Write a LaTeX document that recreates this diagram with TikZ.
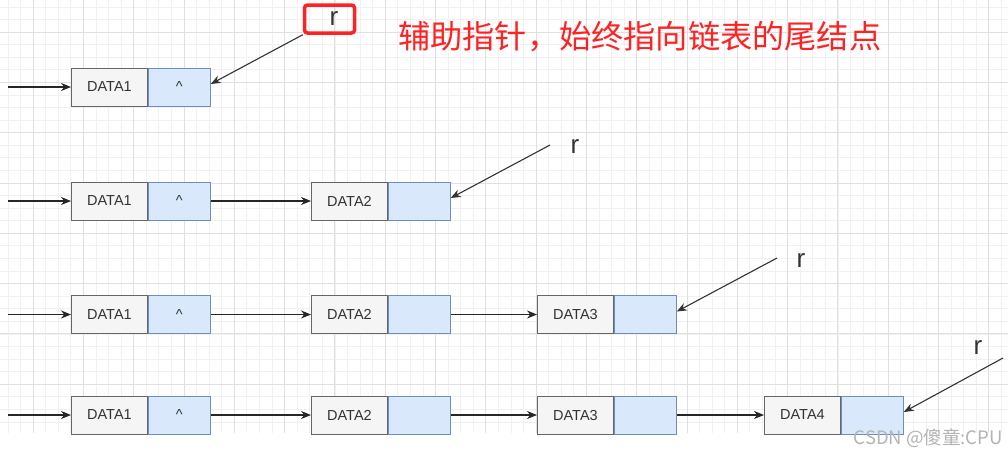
\documentclass[tikz,border=0pt]{standalone}
\usepackage{fontspec}
\setmainfont{Liberation Sans}
\newfontfamily\cjk{Noto Sans CJK SC}
\usetikzlibrary{arrows.meta,calc}
\definecolor{gridmaj}{HTML}{E0E0E0}
\definecolor{gridmin}{HTML}{F1F1F1}
\definecolor{datafill}{HTML}{F5F5F5}
\definecolor{dataline}{HTML}{666666}
\definecolor{ptrfill}{HTML}{DAE8FC}
\definecolor{ptrline}{HTML}{6C8EBF}
\definecolor{txt}{HTML}{333333}
\definecolor{note}{HTML}{FF2222}
\definecolor{wm}{HTML}{B4B4B4}
\tikzset{
  databox/.style={draw=dataline, fill=datafill, line width=0.9pt, minimum width=76pt, minimum height=38pt, inner sep=0pt, anchor=west, text=txt, font=\fontsize{14.5}{16}\selectfont},
  ptrbox/.style={draw=ptrline, fill=ptrfill, line width=0.9pt, minimum width=62pt, minimum height=38pt, inner sep=0pt, anchor=west, text=txt, font=\fontsize{14.5}{16}\selectfont},
  link/.style={line width=1.1pt, draw=black!85, -{Stealth[length=10pt,width=8pt]}},
  rptr/.style={line width=1.1pt, draw=black!80, -{Stealth[length=10pt,width=8pt]}},
  rlabel/.style={inner sep=0pt, text=txt, font=\fontsize{26}{28}\selectfont},
  redbox/.style={draw=note, line width=3.5pt, rounded corners=3pt, minimum width=50pt, minimum height=28pt, inner sep=0pt},
}
\begin{document}
\begin{tikzpicture}[x=1pt,y=-1pt]
\useasboundingbox (0,0) rectangle (1008,456);
\fill[white] (0,0) rectangle (1008,456);
% grid
\begin{scope}
\clip (0,0) rectangle (1008,433);
\foreach \i in {-3,...,78} \draw[gridmin, line width=0.6pt] ({33+12.575*\i},0) -- ++(0,433);
\foreach \i in {-3,...,33} \draw[gridmin, line width=0.6pt] (0,{32+12.575*\i}) -- ++(1008,0);
\foreach \i in {-1,...,20} \draw[gridmaj, line width=0.8pt] ({33+50.3*\i},0) -- ++(0,433);
\foreach \i in {-1,...,9} \draw[gridmaj, line width=0.8pt] (0,{32+50.3*\i}) -- ++(1008,0);
\end{scope}

% row 1
\node[databox] (a1) at (71,87) {DATA1};
\node[ptrbox] (a1p) at (a1.east) {\textasciicircum};
\coordinate (a0) at (8,87);
\draw[link] (a0) -- (a1);
\node[redbox] (rb) at (329.5,19) {};
\node[rlabel] (r1) at (334,19) {r};
\draw[rptr] (rb.south west) -- ([yshift=3pt]a1p.east);
\node[anchor=west, inner sep=0pt, text=note, font=\cjk\fontsize{32.2}{34}\selectfont] (tip) at (398,37) {辅助指针，始终指向链表的尾结点};

% row 2
\node[databox] (b1) at (71,201) {DATA1};
\node[ptrbox] (b1p) at (b1.east) {\textasciicircum};
\node[databox] (b2) at (311,201) {DATA2};
\node[ptrbox] (b2p) at (b2.east) {};
\coordinate (b0) at (8,201);
\draw[link] (b0) -- (b1);
\draw[link] (b1p) -- (b2);
\coordinate (bs) at (550,145);
\node[rlabel] (r2) at (575,146) {r};
\draw[rptr] (bs) -- ([yshift=3pt]b2p.east);

% row 3
\node[databox] (c1) at (71,314.5) {DATA1};
\node[ptrbox] (c1p) at (c1.east) {\textasciicircum};
\node[databox] (c2) at (311,314.5) {DATA2};
\node[ptrbox] (c2p) at (c2.east) {};
\node[databox] (c3) at (537,314.5) {DATA3};
\node[ptrbox] (c3p) at (c3.east) {};
\coordinate (c0) at (8,314.5);
\draw[link] (c0) -- (c1);
\draw[link] (c1p) -- (c2);
\draw[link] (c2p) -- (c3);
\coordinate (cs) at (777,258);
\node[rlabel] (r3) at (801,260) {r};
\draw[rptr] (cs) -- ([yshift=3pt]c3p.east);

% row 4
\node[databox] (d1) at (71,415) {DATA1};
\node[ptrbox] (d1p) at (d1.east) {\textasciicircum};
\node[databox] (d2) at (311,415) {DATA2};
\node[ptrbox] (d2p) at (d2.east) {};
\node[databox] (d3) at (537,415) {DATA3};
\node[ptrbox] (d3p) at (d3.east) {};
\node[databox] (d4) at (764,415) {DATA4};
\node[ptrbox] (d4p) at (d4.east) {};
\coordinate (d0) at (8,415);
\draw[link] (d0) -- (d1);
\draw[link] (d1p) -- (d2);
\draw[link] (d2p) -- (d3);
\draw[link] (d3p) -- (d4);
\coordinate (ds) at (1003,358);
\node[rlabel] (r4) at (978,347) {r};
\draw[rptr] (ds) -- ([yshift=3pt]d4p.east);

% watermark
\node[anchor=east, inner sep=0pt, text=wm, font=\cjk\fontsize{18.5}{20}\selectfont] (wmk) at (1003,438) {CSDN @傻童:CPU};
\end{tikzpicture}
\end{document}
